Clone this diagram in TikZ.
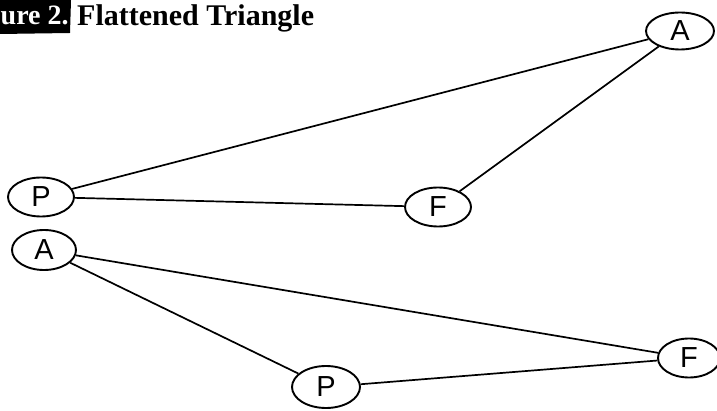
\documentclass[tikz,border=0pt]{standalone}
\usepackage{fontspec}
\setmainfont{Liberation Serif}
\newfontfamily\lblfont{Liberation Sans}
\usetikzlibrary{shapes.geometric}
\begin{document}
\begin{tikzpicture}[x=1pt,y=-1pt,
  vert/.style={draw,ellipse,line width=1.9pt,inner sep=0pt,font=\lblfont\fontsize{29}{29}\selectfont},
  edge/.style={line width=1.7pt}]
\useasboundingbox (0,0) rectangle (717,411);
\fill[black] (0,0) -- (71,0) -- (70,33) -- (0,34) -- cycle;
\node[anchor=base west,inner sep=0pt,text=white,font=\bfseries\fontsize{28}{28}\selectfont] (fig) at (0.5,25) {ure 2.};
\node[anchor=base west,inner sep=0pt,font=\bfseries\fontsize{30}{30}\selectfont] (title) at (77,26) {Flattened Triangle};
\node[vert,minimum width=68pt,minimum height=37pt] (A1) at (680,31) {A};
\node[vert,minimum width=66pt,minimum height=39pt] (P1) at (41,197) {P};
\node[vert,minimum width=66pt,minimum height=39pt] (F1) at (438,207) {F};
\node[vert,minimum width=64pt,minimum height=40pt] (A2) at (44,250) {A};
\node[vert,minimum width=62pt,minimum height=39pt] (F2) at (689,358) {F};
\node[vert,minimum width=68pt,minimum height=42pt] (P2) at (326,387) {P};
\draw[edge] (P1) -- (A1);
\draw[edge] (P1) -- (F1);
\draw[edge] (F1) -- (A1);
\draw[edge] (A2) -- (F2);
\draw[edge] (A2) -- (P2);
\draw[edge] (P2) -- (F2);
\end{tikzpicture}
\end{document}
